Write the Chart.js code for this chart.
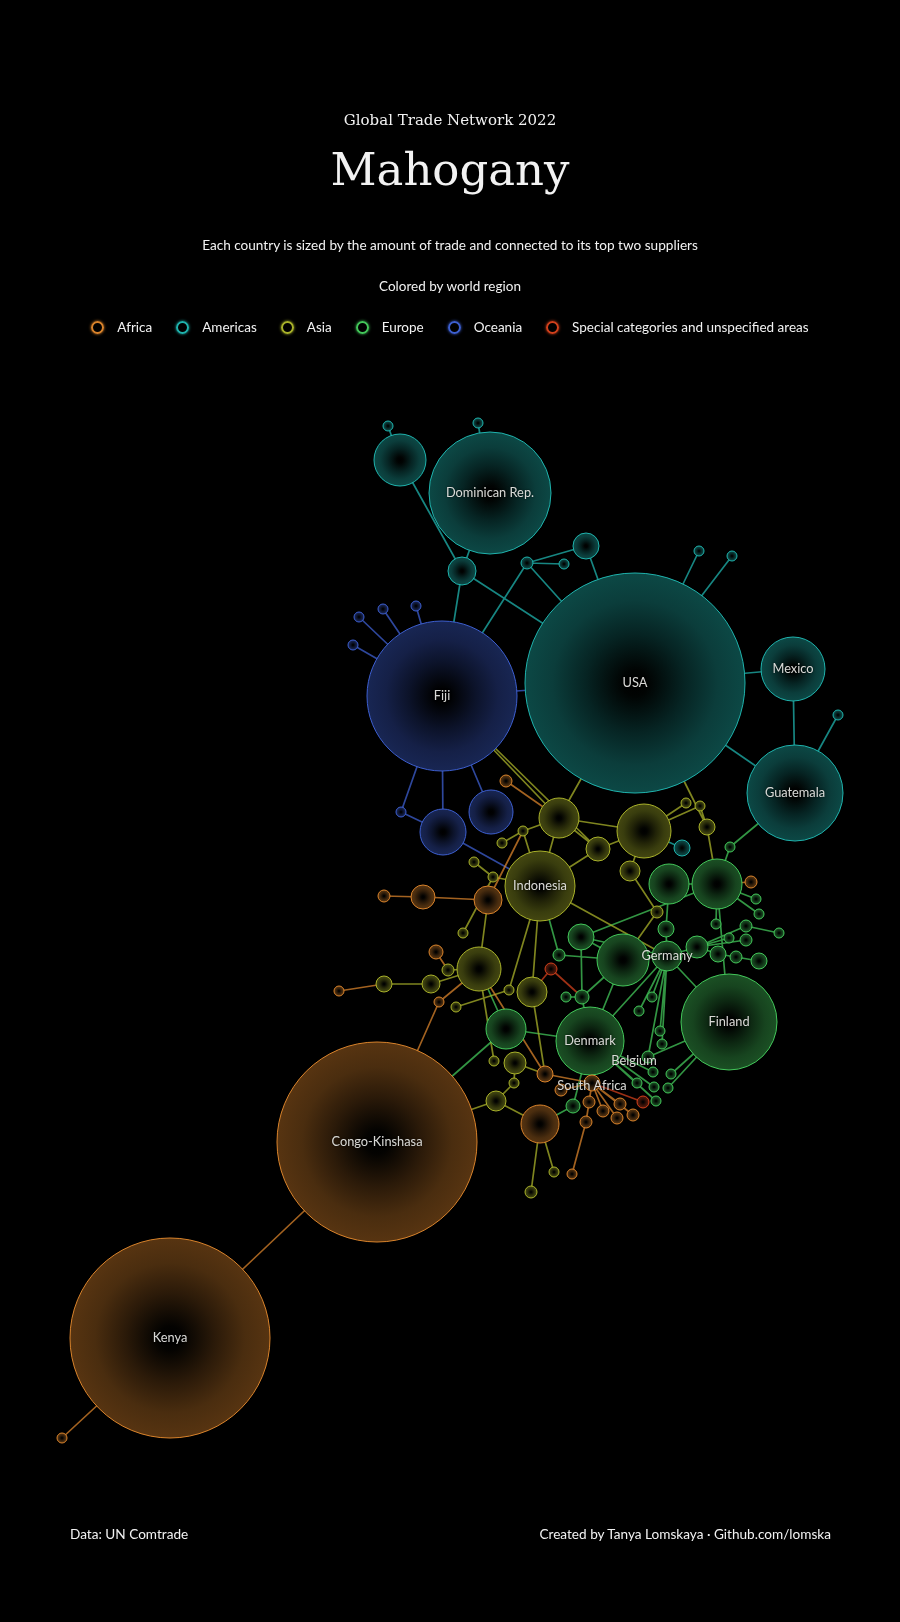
<!DOCTYPE html>
<html lang="en">
  <head>
    <meta charset="UTF-8" />
    <title>Global Trade Network 2022 - Mahogany</title>
    <style>
      body {
        margin: 0;
        background: #000;
        font-family: Lato, "Open Sans", sans-serif;
      }
      #wrap {
        position: relative;
        width: 900px;
        height: 1622px;
        overflow: hidden;
      }
      #net {
        position: absolute;
        left: 0;
        top: 0;
      }
      .txt {
        position: absolute;
        left: 0;
        width: 900px;
        text-align: center;
        color: #f2f2f2;
        line-height: 1;
        white-space: nowrap;
      }
      .serif {
        font-family: "DejaVu Serif", "Liberation Serif", serif;
      }
      #legend {
        position: absolute;
        top: 320px;
        left: 0;
        width: 900px;
        display: flex;
        justify-content: center;
        gap: 24px;
        color: #f2f2f2;
        font-size: 13.5px;
        line-height: 14px;
      }
      #legend span.dot {
        display: inline-block;
        width: 9px;
        height: 9px;
        border-radius: 50%;
        border: 2px solid;
        margin-right: 13px;
        vertical-align: -2px;
      }
      .foot {
        position: absolute;
        top: 1528px;
        color: #f2f2f2;
        font-size: 13.6px;
        line-height: 1;
      }
    </style>
    <script src="https://cdn.jsdelivr.net/npm/chart.js"></script>
  </head>
  <body>
    <div id="wrap">
      <canvas id="net" width="900" height="1622"></canvas>
      <div class="txt serif" style="top: 113px; font-size: 15px">Global Trade Network 2022</div>
      <div class="txt serif" style="top: 147px; font-size: 45px">Mahogany</div>
      <div class="txt" style="top: 239px; font-size: 13.6px">
        Each country is sized by the amount of trade and connected to its top two suppliers
      </div>
      <div class="txt" style="top: 280px; font-size: 13.5px">Colored by world region</div>
      <div id="legend"></div>
      <div class="foot" style="left: 70px">Data: UN Comtrade</div>
      <div class="foot" style="right: 69px">Created by Tanya Lomskaya · Github.com/lomska</div>
    </div>

    <script>
      // regions (legend order)
      const regions = ["Africa", "Americas", "Asia", "Europe", "Oceania", "Special categories and unspecified areas"];
      const regionColors = ["#d9832b", "#1fb3ad", "#a9b22a", "#43c75a", "#3d5fd0", "#d2401c"];

      // countries: layout position, bubble radius (trade amount), region index
      const nodeNames = [
        "USA", "Dominican Rep.", "", "", "", "", "", "", "", "", "", "Mexico", "Guatemala", "", "",
        "Fiji", "", "", "", "", "", "", "",
        "Indonesia", "", "", "", "", "", "", "", "", "", "", "", "", "", "", "", "", "", "", "", "", "", "", "", "", "", "",
        "Kenya", "Congo-Kinshasa", "", "", "", "", "", "", "", "", "", "", "", "South Africa", "", "", "", "", "", "", "", "",
        "", "",
        "", "Germany", "Finland", "Denmark", "", "", "", "", "", "", "", "", "", "", "", "", "", "", "", "", "", "", "", "", "", "", "", "", "Belgium", "", "", "", "", "", "", ""
      ];
      const nodeX = [
        635, 490, 400, 388, 478, 462, 586, 527, 564, 699, 732, 793, 795, 838, 682,
        442, 359, 383, 416, 353, 443, 491, 401,
        540, 559, 644, 598, 630, 686, 700, 707, 523, 502, 474, 493, 657, 479, 463, 448, 384, 431, 456, 532, 509, 494, 515, 514, 496, 554, 531,
        170, 377, 62, 506, 384, 423, 488, 751, 436, 339, 439, 545, 540, 592, 561, 589, 603, 617, 620, 633, 586, 572,
        551, 643,
        623, 667, 729, 590, 669, 717, 581, 666, 697, 718, 736, 759, 756, 759, 716, 746, 729, 746, 779, 730, 559, 566, 582, 506, 639, 652, 660, 662, 648, 573, 653, 671, 654, 668, 637, 656
      ];
      const nodeY = [
        683, 493, 460, 426, 423, 571, 546, 563, 564, 551, 556, 669, 793, 715, 848,
        696, 617, 609, 606, 645, 832, 812, 812,
        886, 818, 831, 849, 871, 803, 806, 827, 831, 843, 862, 877, 912, 969, 933, 970, 984, 984, 1007, 992, 990, 1061, 1063, 1083, 1101, 1172, 1192,
        1338, 1142, 1438, 781, 896, 897, 900, 882, 952, 991, 1002, 1074, 1124, 1083, 1090, 1102, 1111, 1118, 1104, 1115, 1122, 1174,
        969, 1102,
        960, 956, 1022, 1041, 884, 884, 937, 929, 947, 954, 957, 961, 899, 914, 924, 926, 938, 940, 933, 847, 955, 997, 997, 1029, 1011, 997, 1031, 1044, 1057, 1106, 1072, 1074, 1087, 1088, 1083, 1101
      ];
      const nodeR = [
        110, 61, 26, 5, 5, 14, 13, 6, 5, 5, 5, 32, 48, 5, 8,
        75, 5, 5, 5, 5, 23, 22, 5,
        35, 20, 27, 12, 10, 5, 5, 8, 5, 5, 5, 5, 6, 22, 5, 6, 8, 9, 5, 15, 5, 5, 11, 5, 10, 5, 6,
        100, 100, 5, 6, 6, 12, 14, 6, 7, 5, 5, 8, 19, 8, 6, 6, 6, 6, 6, 6, 6, 5,
        6, 6,
        26, 15, 48, 34, 20, 25, 13, 8, 11, 8, 6, 8, 5, 5, 5, 6, 5, 6, 5, 5, 6, 5, 7, 20, 5, 5, 5, 5, 6, 7, 5, 5, 5, 5, 5, 5
      ];
      const nodeRegion = [
        1, 1, 1, 1, 1, 1, 1, 1, 1, 1, 1, 1, 1, 1, 1,
        4, 4, 4, 4, 4, 4, 4, 4,
        2, 2, 2, 2, 2, 2, 2, 2, 2, 2, 2, 2, 2, 2, 2, 2, 2, 2, 2, 2, 2, 2, 2, 2, 2, 2, 2,
        0, 0, 0, 0, 0, 0, 0, 0, 0, 0, 0, 0, 0, 0, 0, 0, 0, 0, 0, 0, 0, 0,
        5, 5,
        3, 3, 3, 3, 3, 3, 3, 3, 3, 3, 3, 3, 3, 3, 3, 3, 3, 3, 3, 3, 3, 3, 3, 3, 3, 3, 3, 3, 3, 3, 3, 3, 3, 3, 3, 3
      ];

      // supplier links: importer -> supplier
      const linkFrom = [
        3, 4, 2, 1, 5, 5, 7, 7, 6, 8, 6, 9, 10, 11, 11, 12, 13, 15, 93, 14, 24, 30,
        16, 17, 18, 19, 22, 22, 20, 21, 20, 24, 26,
        53, 24, 24, 26, 26, 26, 27, 35, 28, 29, 30, 30, 31, 31, 32, 33, 34, 37, 36, 42, 43, 72, 42, 40, 59, 40, 38, 58, 41, 60, 60, 55, 55, 56, 44, 45, 46, 46, 47, 47, 48, 49, 35,
        71, 73, 64, 65, 66, 67, 68, 69, 70, 63, 61, 61, 57, 50, 52, 103,
        97, 97, 78, 79, 80, 80, 80, 74, 74, 82, 82, 83, 84, 86, 87, 88, 89, 90, 91, 92, 94, 94, 95, 96, 96, 98, 99, 100, 101, 102, 102, 104, 105, 106, 107, 108, 109, 103, 77, 76, 81, 81, 80, 72, 76, 23, 97
      ];
      const linkTo = [
        2, 1, 5, 5, 0, 15, 15, 0, 7, 7, 0, 0, 0, 0, 12, 0, 12, 0, 12, 25, 0, 0,
        15, 15, 15, 15, 15, 20, 15, 15, 23, 15, 15,
        24, 23, 25, 24, 25, 23, 25, 27, 25, 25, 29, 79, 24, 23, 31, 34, 23, 34, 56, 23, 23, 42, 61, 39, 39, 36, 36, 38, 43, 51, 36, 54, 56, 31, 36, 61, 45, 47, 51, 62, 62, 62, 74,
        70, 63, 63, 63, 63, 63, 63, 63, 63, 77, 63, 36, 79, 51, 50, 62,
        36, 51, 79, 93, 74, 96, 75, 75, 77, 75, 83, 85, 85, 79, 79, 79, 82, 82, 82, 89, 23, 74, 96, 77, 74, 75, 75, 75, 75, 75, 76, 77, 76, 77, 76, 77, 77, 77, 75, 75, 75, 78, 79, 96, 79, 75, 77
      ];

      // legend
      const legendEl = document.getElementById("legend");
      regions.forEach((name, i) => {
        const item = document.createElement("div");
        item.innerHTML =
          '<span class="dot" style="border-color:' + regionColors[i] + "; box-shadow: 0 0 3px " + regionColors[i] + '"></span>' + name;
        legendEl.appendChild(item);
      });

      function hexToRgb(hex) {
        const n = parseInt(hex.slice(1), 16);
        return [(n >> 16) & 255, (n >> 8) & 255, n & 255];
      }
      function shade(hex, k) {
        const c = hexToRgb(hex).map((v) => Math.round(v * k));
        return "rgb(" + c.join(",") + ")";
      }
      function alpha(hex, a) {
        return "rgba(" + hexToRgb(hex).join(",") + "," + a + ")";
      }

      // bubble fill: dark centre, region tint at the rim
      function bubbleFill(ctx) {
        if (ctx.type !== "data" || !ctx.raw) return "#000";
        const chart = ctx.chart;
        const raw = ctx.raw;
        const col = regionColors[raw.region];
        const px = chart.scales.x.getPixelForValue(raw.x);
        const py = chart.scales.y.getPixelForValue(raw.y);
        if (!isFinite(px) || !isFinite(py) || !(raw.r > 0)) return shade(col, 0.2);
        const g = chart.ctx.createRadialGradient(px, py, 0, px, py, raw.r);
        g.addColorStop(0, "#000");
        g.addColorStop(0.12, shade(col, 0.02));
        g.addColorStop(0.45, shade(col, 0.2));
        g.addColorStop(0.75, shade(col, 0.34));
        g.addColorStop(1, shade(col, 0.4));
        return g;
      }

      const datasets = [];

      // links, one line dataset per region (colour of importer), broken with gaps
      regions.forEach((name, ri) => {
        const pts = [];
        for (let i = 0; i < linkFrom.length; i++) {
          const a = linkFrom[i];
          const b = linkTo[i];
          if (nodeRegion[a] !== ri) continue;
          pts.push({ x: nodeX[a], y: nodeY[a] });
          pts.push({ x: nodeX[b], y: nodeY[b] });
          pts.push({ x: nodeX[b], y: null });
        }
        datasets.push({
          type: "line",
          label: name + " links",
          data: pts,
          borderColor: alpha(regionColors[ri], 0.75),
          borderWidth: 1.7,
          pointRadius: 0,
          spanGaps: false,
          tension: 0,
          fill: false,
          order: 2,
        });
      });

      // nodes, one bubble dataset per region, biggest first
      regions.forEach((name, ri) => {
        const pts = [];
        for (let i = 0; i < nodeX.length; i++) {
          if (nodeRegion[i] !== ri) continue;
          pts.push({ x: nodeX[i], y: nodeY[i], r: nodeR[i], region: ri, name: nodeNames[i] });
        }
        pts.sort((p, q) => q.r - p.r);
        datasets.push({
          type: "bubble",
          label: name,
          data: pts,
          backgroundColor: bubbleFill,
          borderColor: regionColors[ri],
          borderWidth: 1,
          order: 1,
        });
      });

      // country names on top of the bubbles
      const nameLabels = {
        id: "nameLabels",
        afterDatasetsDraw(chart) {
          const c = chart.ctx;
          c.save();
          c.font = '12.8px Lato, "Open Sans", sans-serif';
          c.textAlign = "center";
          c.textBaseline = "middle";
          c.fillStyle = "rgba(240,240,236,0.9)";
          c.shadowColor = "rgba(0,0,0,0.8)";
          c.shadowBlur = 2;
          for (let i = 0; i < nodeNames.length; i++) {
            if (!nodeNames[i]) continue;
            const px = chart.scales.x.getPixelForValue(nodeX[i]);
            const py = chart.scales.y.getPixelForValue(nodeY[i]);
            let dx = 0;
            let dy = 0;
            if (nodeNames[i] === "Belgium") {
              dx = -14;
              dy = 4;
            }
            if (nodeNames[i] === "South Africa") dy = 3;
            c.fillText(nodeNames[i], px + dx, py + dy);
          }
          c.restore();
        },
      };

      new Chart(document.getElementById("net"), {
        data: { datasets: datasets },
        options: {
          responsive: false,
          animation: false,
          events: [],
          layout: { padding: 0, autoPadding: false },
          plugins: {
            legend: { display: false },
            tooltip: { enabled: false },
          },
          scales: {
            x: { type: "linear", min: 0, max: 900, display: false },
            y: { type: "linear", min: 0, max: 1622, reverse: true, display: false },
          },
        },
        plugins: [nameLabels],
      });
    </script>
  </body>
</html>
